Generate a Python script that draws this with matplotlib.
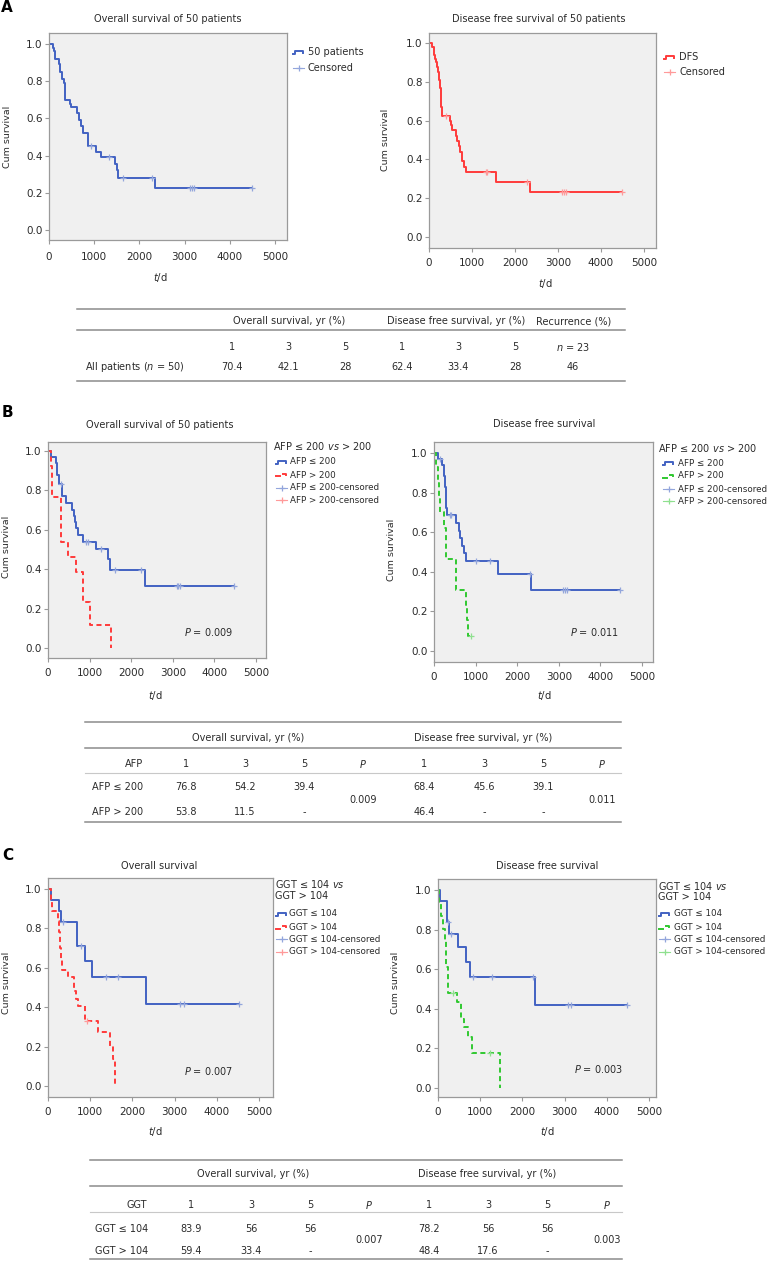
import numpy as np
import matplotlib
matplotlib.use("Agg")
import matplotlib.pyplot as plt
from matplotlib.lines import Line2D
from matplotlib.ticker import FormatStrFormatter

plt.rcParams["font.family"] = ["DejaVu Sans"]
plt.rcParams["mathtext.fontset"] = "dejavusans"

W, H = 769, 1262

# ---- data (days, cumulative survival) ----
# A: all 50 patients
os_all_t = [0, 88, 110, 125, 140, 221, 251, 280, 324, 354, 457, 487, 619, 664, 700, 752, 863, 1047, 1158, 1453, 1504, 1534, 2338]
os_all_s = [1.0, 0.98, 0.96, 0.94, 0.92, 0.89, 0.85, 0.81, 0.79, 0.70, 0.68, 0.66, 0.63, 0.59, 0.56, 0.52, 0.45, 0.42, 0.39, 0.355, 0.32, 0.28, 0.224]
os_all_cens = [937, 1327, 1637, 2286, 3112, 3156, 3200, 4499]

dfs_all_t = [0, 78, 109, 140, 155, 186, 209, 233, 248, 279, 302, 481, 504, 543, 620, 651, 698, 713, 760, 806, 868, 1550, 2341]
dfs_all_s = [1.0, 0.98, 0.94, 0.92, 0.90, 0.875, 0.85, 0.81, 0.77, 0.67, 0.625, 0.60, 0.575, 0.55, 0.52, 0.495, 0.47, 0.44, 0.39, 0.36, 0.335, 0.285, 0.23]
dfs_all_cens = [403, 1318, 1349, 2279, 3101, 3140, 3194, 4496]

# B: AFP
os_afp_lo_t = [0, 80, 185, 205, 225, 265, 345, 441, 586, 618, 640, 666, 722, 843, 1164, 1445, 1501, 2327]
os_afp_lo_s = [1.0, 0.97, 0.94, 0.91, 0.88, 0.83, 0.77, 0.735, 0.70, 0.67, 0.64, 0.61, 0.575, 0.54, 0.50, 0.45, 0.395, 0.315]
os_afp_lo_cens = [305, 923, 963, 1284, 1605, 2247, 3090, 3130, 3170, 4478]
os_afp_hi_t = [0, 80, 90, 100, 321, 482, 682, 843, 1003, 1509]
os_afp_hi_s = [1.0, 0.923, 0.846, 0.769, 0.538, 0.462, 0.385, 0.231, 0.115, 0.0]
os_afp_hi_cens = []

dfs_afp_lo_t = [0, 96, 200, 240, 260, 272, 285, 296, 320, 521, 601, 633, 681, 713, 777, 1538, 2340]
dfs_afp_lo_s = [1.0, 0.97, 0.94, 0.885, 0.86, 0.83, 0.77, 0.72, 0.685, 0.645, 0.605, 0.57, 0.53, 0.495, 0.455, 0.39, 0.31]
dfs_afp_lo_cens = [152, 377, 417, 1018, 1338, 2300, 3101, 3141, 3197, 4463]
dfs_afp_hi_t = [0, 56, 96, 120, 136, 240, 280, 300, 521, 530, 761, 793, 817]
dfs_afp_hi_s = [1.0, 0.93, 0.85, 0.77, 0.70, 0.62, 0.54, 0.465, 0.39, 0.31, 0.23, 0.155, 0.077]
dfs_afp_hi_cens = [897]

# C: GGT
os_ggt_lo_t = [0, 79, 261, 316, 696, 870, 1052, 2334]
os_ggt_lo_s = [1.0, 0.945, 0.89, 0.835, 0.71, 0.635, 0.555, 0.415]
os_ggt_lo_cens = [356, 791, 1369, 1661, 3125, 3228, 4533]
os_ggt_hi_t = [0, 79, 100, 240, 260, 280, 300, 320, 475, 609, 657, 712, 870, 1187, 1464, 1543, 1582]
os_ggt_hi_s = [1.0, 0.945, 0.89, 0.84, 0.78, 0.70, 0.645, 0.59, 0.555, 0.48, 0.44, 0.405, 0.33, 0.275, 0.205, 0.135, 0.0]
os_ggt_hi_cens = [926]

dfs_ggt_lo_t = [0, 40, 223, 255, 478, 654, 758, 2300]
dfs_ggt_lo_s = [1.0, 0.945, 0.84, 0.78, 0.71, 0.635, 0.56, 0.42]
dfs_ggt_lo_cens = [239, 319, 837, 1276, 2240, 3070, 3160, 4480]
dfs_ggt_hi_t = [0, 24, 80, 120, 160, 200, 239, 439, 542, 622, 702, 797, 1475]
dfs_ggt_hi_s = [1.0, 0.935, 0.87, 0.805, 0.74, 0.61, 0.48, 0.435, 0.35, 0.31, 0.26, 0.175, 0.0]
dfs_ggt_hi_cens = [359, 1240]

# tables
tabA_head = ["1", "3", "5", "1", "3", "5", "$n$ = 23"]
tabA_row = "All patients ($n$ = 50)"
tabA_vals = ["70.4", "42.1", "28", "62.4", "33.4", "28", "46"]

tabB_head = ["1", "3", "5", "$P$", "1", "3", "5", "$P$"]
tabB_rows = ["AFP ≤ 200", "AFP > 200"]
tabB_os = [["76.8", "54.2", "39.4"], ["53.8", "11.5", "-"]]
tabB_dfs = [["68.4", "45.6", "39.1"], ["46.4", "-", "-"]]
tabB_p = ["0.009", "0.011"]

tabC_rows = ["GGT ≤ 104", "GGT > 104"]
tabC_os = [["83.9", "56", "56"], ["59.4", "33.4", "-"]]
tabC_dfs = [["78.2", "56", "56"], ["48.4", "17.6", "-"]]
tabC_p = ["0.007", "0.003"]

BLUE, RED, GREEN = "#4262c2", "#ff3b3b", "#30c830"
BLUE_C, RED_C, GREEN_C = "#93a6dc", "#ff9a9a", "#8fe08f"
TXT = "#2b2b2b"
LINE = "#8c8c8c"

fig = plt.figure(figsize=(W / 100, H / 100), dpi=100)


def txt(x, y, s, size=7, ha="center", va="center", **kw):
    fig.text(x / W, 1 - y / H, s, fontsize=size, ha=ha, va=va, color=kw.pop("color", TXT), **kw)


def hline(x0, x1, y, color=LINE, lw=1.1):
    fig.add_artist(Line2D([x0 / W, x1 / W], [1 - y / H, 1 - y / H],
                          transform=fig.transFigure, color=color, lw=lw))


def make_ax(l, t, r, b, x5000, y1, y0, xpad=4):
    ax = fig.add_axes([l / W, 1 - b / H, (r - l) / W, (b - t) / H])
    ax.set_facecolor("#f0f0f0")
    ax.set_xlim(0, 5000 * (r - l) / (x5000 - l))
    ax.set_ylim((y0 - b) / (y0 - y1), (y0 - t) / (y0 - y1))
    ax.set_xticks(range(0, 5001, 1000))
    ax.set_yticks(np.arange(0, 1.01, 0.2))
    ax.yaxis.set_major_formatter(FormatStrFormatter("%.1f"))
    for sp in ax.spines.values():
        sp.set_color("#9a9a9a")
        sp.set_linewidth(0.9)
    ax.tick_params(colors="#9a9a9a", labelcolor=TXT, labelsize=7.5, length=3, width=0.8)
    ax.tick_params(axis="x", pad=xpad)
    ax.tick_params(axis="y", pad=1.5)
    return ax


def km(ax, t, s, end, cens, color, ccolor, dashed=False):
    ls = (0, (2.6, 1.8)) if dashed else "-"
    ax.step(list(t) + [end], list(s) + [s[-1]], where="post", color=color, lw=1.4, ls=ls)
    if cens:
        idx = np.searchsorted(t, cens, side="right") - 1
        ax.plot(cens, np.asarray(s)[idx], ls="none", marker="+", ms=5, mew=0.9,
                color=ccolor, zorder=3)


def fig_line(xs, ys, **kw):
    fig.add_artist(Line2D([x / W for x in xs], [1 - y / H for y in ys],
                          transform=fig.transFigure, **kw))


def leg_entry(x0, y, label, kind, color, dashed=False, size=6.3, tx=None):
    if kind == "curve":
        if dashed:
            fig_line([x0, x0 + 4], [y + 1.5, y + 1.5], color=color, lw=1.4)
            fig_line([x0 + 7, x0 + 10, x0 + 10], [y - 1.5, y - 1.5, y], color=color, lw=1.4)
        else:
            fig_line([x0, x0 + 2, x0 + 2, x0 + 10, x0 + 10],
                     [y + 1.5, y + 1.5, y - 1.5, y - 1.5, y + 1], color=color, lw=1.4)
    else:
        fig_line([x0, x0 + 11], [y, y], color=color, lw=0.8)
        fig_line([x0 + 5.5], [y], color=color, marker="+", ms=5, mew=0.9, ls="none")
    txt(tx if tx else x0 + 14, y, label, size=size, ha="left")


YL = 6.8  # size of the "Cum survival" / t/d labels

# ---------------- Panel A ----------------
txt(1, 8, "A", size=11, ha="left", weight="bold", color="black")
ax = make_ax(49, 33, 287, 240, 275, 44, 230, xpad=6)
km(ax, os_all_t, os_all_s, 4500, os_all_cens, BLUE, BLUE_C)
txt(168, 19, "Overall survival of 50 patients")
txt(8, 137, "Cum survival", rotation=90, size=YL)
txt(160, 277, "$t$/d", size=7.3)
leg_entry(293, 52, "50 patients", "curve", BLUE, size=7, tx=308)
leg_entry(293, 68, "Censored", "cens", BLUE_C, size=7, tx=308)

ax = make_ax(429, 33, 656, 248, 644, 43, 237)
km(ax, dfs_all_t, dfs_all_s, 4496, dfs_all_cens, RED, RED_C)
txt(539, 19, "Disease free survival of 50 patients")
txt(386, 140, "Cum survival", rotation=90, size=YL)
txt(545, 283, "$t$/d", size=7.3)
leg_entry(664, 57, "DFS", "curve", RED, size=7, tx=679)
leg_entry(664, 72, "Censored", "cens", RED_C, size=7, tx=679)

# table A
hline(77, 625, 309)
hline(77, 625, 330)
hline(77, 625, 381)
txt(289, 321, "Overall survival, yr (%)")
txt(456, 321, "Disease free survival, yr (%)")
txt(574, 321, "Recurrence (%)")
colsA = [232, 288, 345, 402, 458, 515, 573]
for x, h, v in zip(colsA, tabA_head, tabA_vals):
    txt(x, 347, h)
    txt(x, 367, v)
txt(85, 367, tabA_row, ha="left")

# ---------------- Panel B ----------------
txt(2, 412, "B", size=11, ha="left", weight="bold", color="black")
ax = make_ax(48, 442, 266, 658, 256, 451, 648)
km(ax, os_afp_lo_t, os_afp_lo_s, 4478, os_afp_lo_cens, BLUE, BLUE_C)
km(ax, os_afp_hi_t, os_afp_hi_s, 1509, os_afp_hi_cens, RED, RED_C, dashed=True)
txt(160, 425, "Overall survival of 50 patients")
txt(7, 547, "Cum survival", rotation=90, size=YL)
txt(155, 695, "$t$/d", size=7.3)
txt(233, 632, "$P$ = 0.009", ha="right")
txt(273, 446, r"AFP ≤ 200 $\mathit{vs}$ > 200", ha="left")
leg_entry(276, 462, "AFP ≤ 200", "curve", BLUE, tx=290)
leg_entry(276, 475, "AFP > 200", "curve", RED, dashed=True, tx=290)
leg_entry(276, 488, "AFP ≤ 200-censored", "cens", BLUE_C, tx=290)
leg_entry(276, 500, "AFP > 200-censored", "cens", RED_C, tx=290)

ax = make_ax(434, 442, 653, 662, 642, 453, 651)
km(ax, dfs_afp_lo_t, dfs_afp_lo_s, 4463, dfs_afp_lo_cens, BLUE, BLUE_C)
km(ax, dfs_afp_hi_t, dfs_afp_hi_s, 897, dfs_afp_hi_cens, GREEN, GREEN_C, dashed=True)
txt(544, 424, "Disease free survival")
txt(391, 550, "Cum survival", rotation=90, size=YL)
txt(544, 695, "$t$/d", size=7.3)
txt(619, 632, "$P$ = 0.011", ha="right")
txt(658, 448, r"AFP ≤ 200 $\mathit{vs}$ > 200", ha="left")
leg_entry(663, 463, "AFP ≤ 200", "curve", BLUE, tx=678)
leg_entry(663, 476, "AFP > 200", "curve", GREEN, dashed=True, tx=678)
leg_entry(663, 489, "AFP ≤ 200-censored", "cens", BLUE_C, tx=678)
leg_entry(663, 501, "AFP > 200-censored", "cens", GREEN_C, tx=678)

# table B
hline(85, 621, 722)
hline(85, 621, 748)
hline(85, 621, 773, color="#c8c8c8", lw=0.8)
hline(85, 621, 822)
txt(248, 738, "Overall survival, yr (%)")
txt(483, 738, "Disease free survival, yr (%)")
colsB = [186, 245, 304, 363, 424, 484, 543, 602]
txt(143, 764, "AFP", ha="right")
for x, h in zip(colsB, tabB_head):
    txt(x, 764, h)
for y, lab, o, d in zip([787, 812], tabB_rows, tabB_os, tabB_dfs):
    txt(92, y, lab, ha="left")
    for x, v in zip(colsB[:3] + colsB[4:7], o + d):
        txt(x, y, v)
txt(colsB[3], 800, tabB_p[0])
txt(colsB[7], 800, tabB_p[1])

# ---------------- Panel C ----------------
txt(2, 855, "C", size=11, ha="left", weight="bold", color="black")
ax = make_ax(48, 878, 273, 1097, 259, 889, 1086)
km(ax, os_ggt_lo_t, os_ggt_lo_s, 4533, os_ggt_lo_cens, BLUE, BLUE_C)
km(ax, os_ggt_hi_t, os_ggt_hi_s, 1582, os_ggt_hi_cens, RED, RED_C, dashed=True)
txt(159, 866, "Overall survival")
txt(7, 983, "Cum survival", rotation=90, size=YL)
txt(155, 1132, "$t$/d", size=7.3)
txt(233, 1071, "$P$ = 0.007", ha="right")
txt(275, 884, r"GGT ≤ 104 $\mathit{vs}$", ha="left")
txt(275, 896, "GGT > 104", ha="left")
leg_entry(276, 914, "GGT ≤ 104", "curve", BLUE, tx=289)
leg_entry(276, 927, "GGT > 104", "curve", RED, dashed=True, tx=289)
leg_entry(276, 939, "GGT ≤ 104-censored", "cens", BLUE_C, tx=289)
leg_entry(276, 952, "GGT > 104-censored", "cens", RED_C, tx=289)

ax = make_ax(438, 879, 656, 1097, 649, 890, 1088)
km(ax, dfs_ggt_lo_t, dfs_ggt_lo_s, 4480, dfs_ggt_lo_cens, BLUE, BLUE_C)
km(ax, dfs_ggt_hi_t, dfs_ggt_hi_s, 1475, dfs_ggt_hi_cens, GREEN, GREEN_C, dashed=True)
txt(547, 866, "Disease free survival")
txt(395, 983, "Cum survival", rotation=90, size=YL)
txt(547, 1132, "$t$/d", size=7.3)
txt(623, 1069, "$P$ = 0.003", ha="right")
txt(658, 886, r"GGT ≤ 104 $\mathit{vs}$", ha="left")
txt(658, 897, "GGT > 104", ha="left")
leg_entry(659, 914, "GGT ≤ 104", "curve", BLUE, tx=674)
leg_entry(659, 927, "GGT > 104", "curve", GREEN, dashed=True, tx=674)
leg_entry(659, 939, "GGT ≤ 104-censored", "cens", BLUE_C, tx=674)
leg_entry(659, 952, "GGT > 104-censored", "cens", GREEN_C, tx=674)

# table C
hline(90, 622, 1160)
hline(90, 622, 1186)
hline(90, 622, 1212, color="#c8c8c8", lw=0.8)
hline(90, 622, 1259)
txt(253, 1174, "Overall survival, yr (%)")
txt(487, 1174, "Disease free survival, yr (%)")
colsC = [191, 251, 310, 369, 429, 488, 547, 607]
txt(147, 1205, "GGT", ha="right")
for x, h in zip(colsC, tabB_head):
    txt(x, 1205, h)
for y, lab, o, d in zip([1229, 1251], tabC_rows, tabC_os, tabC_dfs):
    txt(95, y, lab, ha="left")
    for x, v in zip(colsC[:3] + colsC[4:7], o + d):
        txt(x, y, v)
txt(colsC[3], 1240, tabC_p[0])
txt(colsC[7], 1240, tabC_p[1])

fig.savefig("out.png", dpi=100)
